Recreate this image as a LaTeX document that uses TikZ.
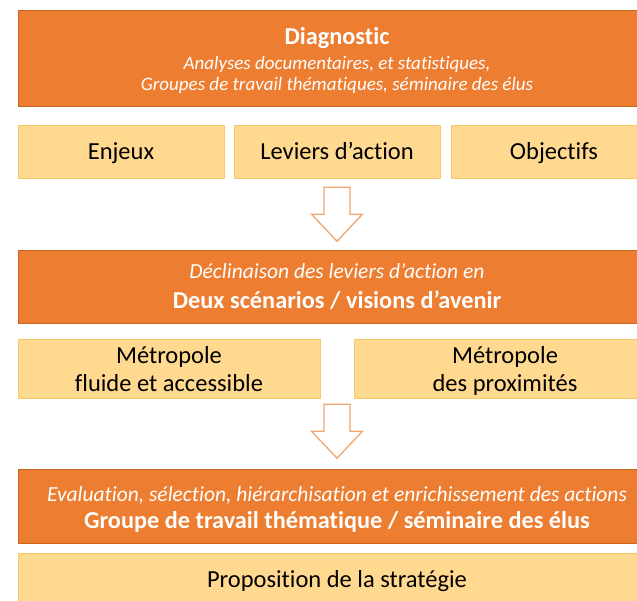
\documentclass[tikz,border=0pt]{standalone}
\usepackage{fontspec}
\setmainfont{Carlito}[Ligatures=NoCommon]
\usetikzlibrary{calc}
\definecolor{orangefond}{HTML}{ED7D31}
\definecolor{orangebord}{HTML}{C9651F}
\definecolor{jaunefond}{HTML}{FFD98F}
\definecolor{jaunebord}{HTML}{F7CB6A}
\definecolor{flechebord}{HTML}{F2A56C}
\begin{document}
\begin{tikzpicture}[x=1pt,y=-1pt,
		orangebox/.style={draw=orangebord,fill=orangefond,text=white,minimum width=638pt,align=center,inner sep=0pt,font=\fontsize{19}{21}\selectfont},
		jaunebox/.style={draw=jaunebord,fill=jaunefond,text=black,align=center,inner sep=0pt,font=\fontsize{24.5}{28}\selectfont},
		uneligne/.style={text height=20pt,text depth=4.2pt},
		fleche/.style={draw=flechebord,fill=white,line width=1.3pt,line join=miter}]
			\def\fleche#1{\draw[fleche] (#1) ++(-13,0) -- ++(26,0) -- ++(0,27) -- ++(12.5,0)
				-- ++(-25.5,27) -- ++(-25.5,-27) -- ++(12.5,0) -- cycle;}
			\def\ital{\itshape\fontsize{21.5}{21}\selectfont}
			\def\petit{\itshape\fontsize{19}{21}\selectfont}
			\def\gras{\bfseries\fontsize{24.3}{21}\selectfont}
			\def\haut#1{\rule{0pt}{#1pt}}
			\def\bas#1{\rule[-#1pt]{0pt}{0pt}}
			\clip (0,0) rectangle (637,600);
			%===========================================
			\node[orangebox,minimum height=96pt] (diag) at (337,58) {%
				\gras\haut{22}Diagnostic\\[4.4pt]
				\petit Analyses documentaires, et statistiques,\\
				\petit Groupes de travail thématiques, séminaire des élus};
			\foreach \nom/\cx/\txt in {enjeux/121/Enjeux,leviers/337/Leviers d’action,objectifs/554/Objectifs}
				\node[jaunebox,uneligne,minimum width=206pt,minimum height=53pt] (\nom) at (\cx,151.5) {\txt};
			\node[orangebox,minimum height=73pt] (decl) at (337,286.5) {%
				\ital Déclinaison des leviers d’action en\\[8.8pt]
				\gras Deux scénarios / visions d’avenir};
			\node[jaunebox,minimum width=302pt,minimum height=53pt] (fluide) at (169,368.5) {\haut{25}Métropole\\fluide et accessible\bas{6.5}};
			\node[jaunebox,minimum width=302pt,minimum height=53pt] (proxi) at (505,368.5) {\haut{25}Métropole\\des proximités\bas{6.5}};
			\node[orangebox,minimum height=74pt] (eval) at (337,506) {%
				\ital\haut{22}Evaluation, sélection, hiérarchisation et enrichissement des actions\\[6.8pt]
				\gras Groupe de travail thématique / séminaire des élus};
			\node[jaunebox,uneligne,minimum width=638pt,minimum height=53pt] (prop) at (337,579.5) {Proposition de la stratégie};
			%===========================================
			\fleche{$(leviers.south)+(0,9)$}
			\fleche{$(decl.south)+(0,81)$}
	\end{tikzpicture}
\end{document}
